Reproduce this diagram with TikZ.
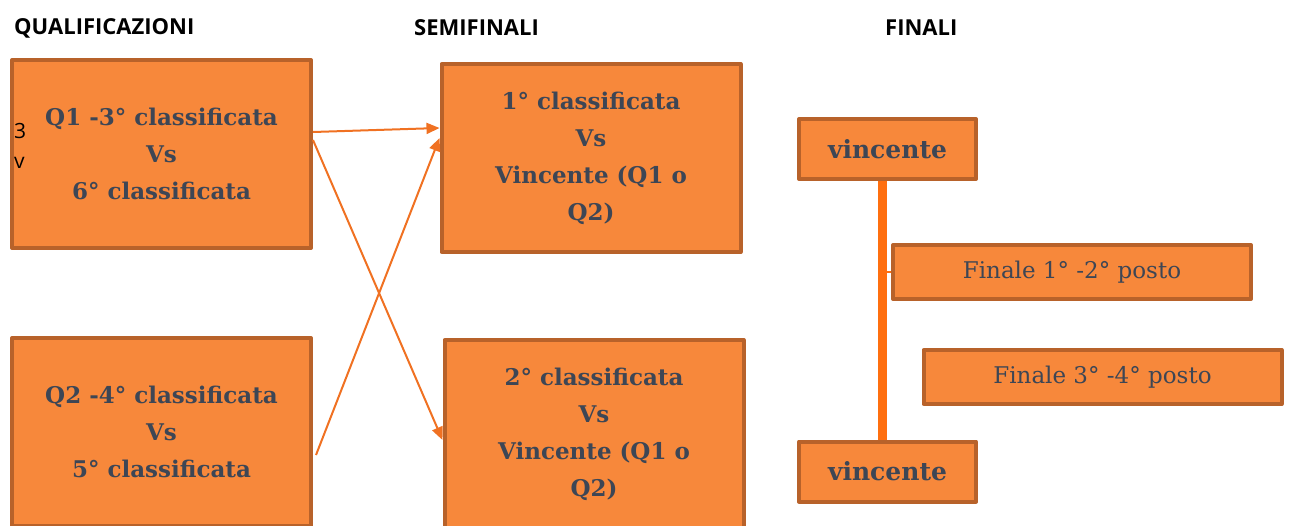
\documentclass[tikz,border=0pt]{standalone}
\usepackage{fontspec}
\setmainfont{DejaVu Serif}
\newfontfamily\headfont{Open Sans}
\usetikzlibrary{arrows.meta,positioning,calc}
\definecolor{boxfill}{HTML}{F7883B}
\definecolor{boxline}{HTML}{B8622A}
\definecolor{boxtext}{HTML}{3D4655}
\definecolor{arrowcol}{HTML}{F07122}
\definecolor{barcol}{HTML}{FF6F0F}
\begin{document}
\begin{tikzpicture}[x=1pt,y=-1pt,line join=round,
  box/.style={draw=boxline,fill=boxfill,line width=4pt,text=boxtext,align=center,inner sep=0pt,
    font=\fontsize{23}{37}\selectfont\bfseries},
  matchbox/.style={box,minimum width=299pt,minimum height=188pt},
  winbox/.style={box,minimum width=177pt,minimum height=60pt,font=\fontsize{25}{30}\selectfont\bfseries},
  finbox/.style={box,minimum width=358pt,minimum height=54pt,font=\fontsize{23}{30}\selectfont},
  conn/.style={draw=arrowcol,line width=2pt,-{Triangle[length=13pt,width=11pt]}},
  head/.style={anchor=west,inner sep=0pt,font=\headfont\fontsize{22}{24}\selectfont\bfseries},
  note/.style={anchor=west,inner sep=0pt,font=\headfont\fontsize{21}{24}\selectfont}]
\useasboundingbox (0,0) rectangle (1291,525);
% qualificazioni
\node[matchbox] (q1) at (161.5,154) {Q1 -3° classificata\\Vs\\6° classificata};
\node[matchbox] (q2) at (161.5,432) {Q2 -4° classificata\\Vs\\5° classificata};
% semifinali
\node[matchbox] (s1) at (591,158) {1° classificata\\Vs\\Vincente (Q1 o\\Q2)};
\node[matchbox] (s2) at (594,434) {2° classificata\\Vs\\Vincente (Q1 o\\Q2)};
% finali
\node[winbox] (vt) at (887.5,149) {vincente};
\node[winbox] (vb) at (887.5,471.5) {vincente};
\node[finbox] (f1) at (1072,272) {Finale 1° -2° posto};
\node[finbox] (f3) at (1102.5,377) {Finale 3° -4° posto};
\coordinate (bt) at ([xshift=-5pt]vt.south);
\coordinate (bb) at ([xshift=-5pt]vb.north);
\draw[barcol,line width=8.5pt] (bt)--(bb);
\draw[barcol,line width=2pt] (bt |- f1.west)--(f1.west);
% collegamenti
\draw[conn] ([yshift=22pt]q1.east)--([yshift=30pt]s1.west);
\draw[conn] ([yshift=14pt]q1.east)--([yshift=-6pt]s2.west);
\draw[conn] ([xshift=3pt,yshift=-23pt]q2.east)--([yshift=20pt]s1.west);
% titoli
\foreach \t/\x in {QUALIFICAZIONI/14,SEMIFINALI/414,FINALI/885}{\node[head] at (\x,28) {\t};}
\node[note] (n3) at (14,130.5) {3};
\node[note] (nv) at (14,163) {v};
\end{tikzpicture}
\end{document}
